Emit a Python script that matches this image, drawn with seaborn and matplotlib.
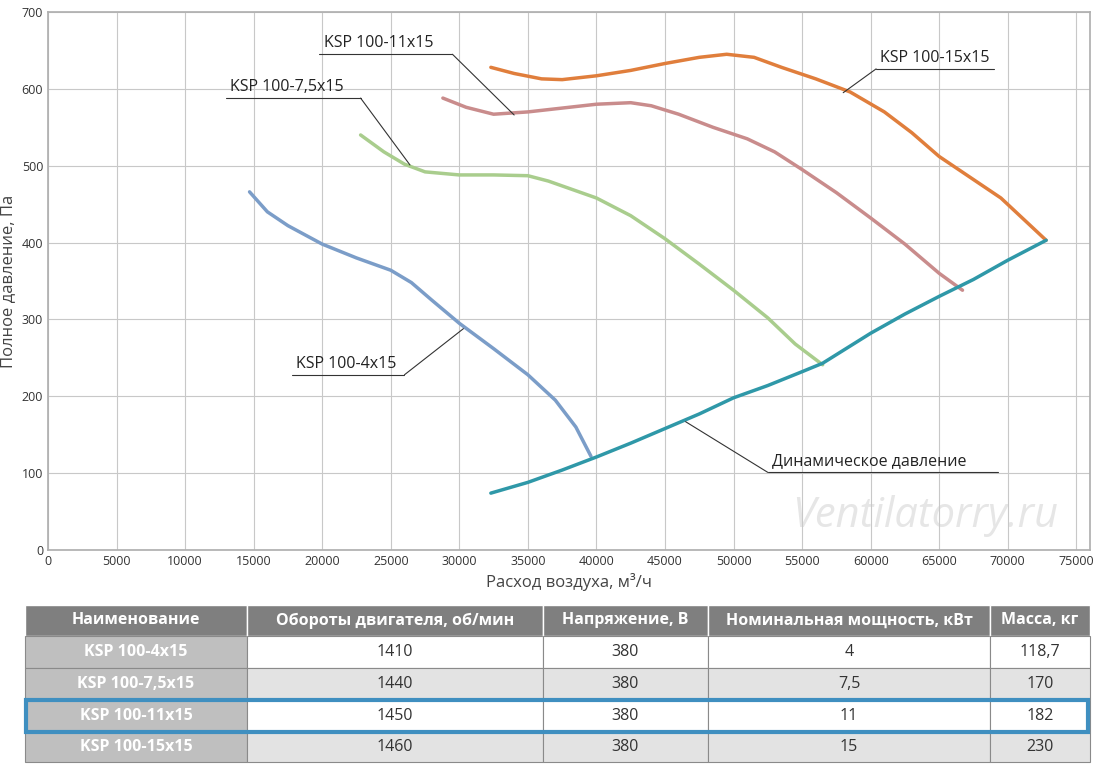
import matplotlib
matplotlib.use("Agg")
import matplotlib.pyplot as plt
import seaborn as sns
from matplotlib.patches import Rectangle

sns.set_theme(style="white")
plt.rcParams['font.family'] = ['Open Sans', 'DejaVu Sans']

# curve data (air flow m3/h, total pressure Pa)
x_4 = [14700, 16000, 17500, 20000, 22500, 25000, 26500, 28000, 30000, 32500, 35000, 37000, 38500, 39600]
y_4 = [466, 440, 422, 398, 380, 364, 348, 325, 295, 262, 228, 195, 160, 122]
x_75 = [22800, 24500, 26000, 27500, 30000, 32500, 35000, 36500, 40000, 42500, 45000, 47500, 50000, 52500, 54500, 56500]
y_75 = [540, 518, 502, 492, 488, 488, 487, 480, 458, 435, 405, 372, 338, 302, 268, 241]
x_11 = [28800, 30500, 32500, 35000, 37500, 40000, 42500, 44000, 46000, 48500, 51000, 53000, 55000, 57500, 60000, 62500, 65000, 66700]
y_11 = [588, 576, 567, 570, 575, 580, 582, 578, 567, 550, 535, 518, 495, 465, 432, 398, 360, 338]
x_15 = [32300, 34000, 36000, 37500, 40000, 42500, 45000, 47500, 49500, 51500, 53500, 56000, 58500, 61000, 63000, 65000, 67000, 69500, 72800]
y_15 = [628, 620, 613, 612, 617, 624, 633, 641, 645, 641, 628, 613, 596, 570, 543, 512, 488, 458, 403]
x_dyn = [32300, 35000, 37500, 40000, 42500, 45000, 47500, 50000, 52500, 55000, 56500, 60000, 62500, 65000, 67500, 70000, 72800]
y_dyn = [74, 88, 104, 121, 139, 158, 177, 198, 214, 232, 243, 282, 307, 330, 352, 377, 403]

header = ["Наименование", "Обороты двигателя, об/мин", "Напряжение, В",
          "Номинальная мощность, кВт", "Масса, кг"]
names = ["KSP 100-4x15", "KSP 100-7,5x15", "KSP 100-11x15", "KSP 100-15x15"]
rpm = ["1410", "1440", "1450", "1460"]
volt = ["380", "380", "380", "380"]
power = ["4", "7,5", "11", "15"]
mass = ["118,7", "170", "182", "230"]

fig = plt.figure(figsize=(11, 7.65), dpi=100)
ax = fig.add_axes([48 / 1100, 1 - 550 / 765, 1042 / 1100, 538 / 765])

curves = [(x_4, y_4, '#7b9dc8'), (x_75, y_75, '#a9cd8d'), (x_11, y_11, '#c98c8c'),
          (x_15, y_15, '#e07e3c'), (x_dyn, y_dyn, '#2f98a8')]
for xs, ys, c in curves:
    sns.lineplot(x=xs, y=ys, ax=ax, color=c, linewidth=2.5, sort=False,
                 solid_joinstyle='round', solid_capstyle='round')

ax.set_xlim(0, 76000)
ax.set_ylim(0, 700)
ax.set_xticks(range(0, 75001, 5000))
ax.set_yticks(range(0, 701, 100))
ax.tick_params(labelsize=9, colors='#333333', length=0)
ax.grid(True, color='#c8c8c8', linewidth=0.8)
for s in ax.spines.values():
    s.set_color('#b0b0b0')
ax.set_xlabel("Расход воздуха, м³/ч", fontsize=12, color='#444444')
ax.set_ylabel("Полное давление, Па", fontsize=12, color='#444444')

# labels: text, underline from x0 to x1 at y, leader start x, leader end point
labels = [("KSP 100-11x15", 19800, 29500, 645, 29500, 34000, 566),
          ("KSP 100-7,5x15", 13000, 22800, 588, 22800, 26400, 501),
          ("KSP 100-4x15", 17800, 26000, 228, 26000, 30300, 288),
          ("KSP 100-15x15", 60400, 69000, 626, 60400, 58000, 595),
          ("Динамическое давление", 52500, 69300, 101, 52500, 46500, 167)]
for txt, x0, x1, ty, sx, px, py in labels:
    ax.text(x0 + 300, ty + 4, txt, fontsize=11.5, color='#222222', va='bottom')
    ax.plot([x0, x1], [ty, ty], color='#333333', lw=0.8)
    ax.plot([sx, px], [ty, py], color='#333333', lw=0.8)

ax.text(64000, 30, "Ventilatorry.ru", fontsize=30, style='italic', color='#e6e6e6',
        ha='center', zorder=0)

# table
tax = fig.add_axes([0, 0, 1, 1])
tax.set_xlim(0, 1100)
tax.set_ylim(765, 0)
tax.axis('off')
cols = [25, 247, 543, 708, 990, 1090]
rows_y = [605, 636, 668, 700, 732, 762]
data = list(zip(names, rpm, volt, power, mass))
for j in range(5):
    x0, x1 = cols[j], cols[j + 1]
    tax.add_patch(Rectangle((x0, rows_y[0]), x1 - x0, rows_y[1] - rows_y[0],
                            facecolor='#7f7f7f', edgecolor='white', lw=1))
    tax.text((x0 + x1) / 2, (rows_y[0] + rows_y[1]) / 2, header[j], color='white',
             fontsize=11.5, fontweight='bold', ha='center', va='center')
    for i, row in enumerate(data):
        y0, y1 = rows_y[i + 1], rows_y[i + 2]
        if j == 0:
            fc, tc, fw = '#bfbfbf', 'white', 'bold'
        else:
            fc = '#ffffff' if i % 2 == 0 else '#e3e3e3'
            tc, fw = '#333333', 'normal'
        tax.add_patch(Rectangle((x0, y0), x1 - x0, y1 - y0, facecolor=fc,
                                edgecolor='#8a8a8a', lw=0.8))
        tax.text((x0 + x1) / 2, (y0 + y1) / 2, row[j], color=tc, fontsize=11.5,
                 fontweight=fw, ha='center', va='center')
tax.add_patch(Rectangle((26, rows_y[3]), 1062, rows_y[4] - rows_y[3], facecolor='none',
                        edgecolor='#3f8fc0', lw=3))

fig.savefig("out.png", dpi=100)
